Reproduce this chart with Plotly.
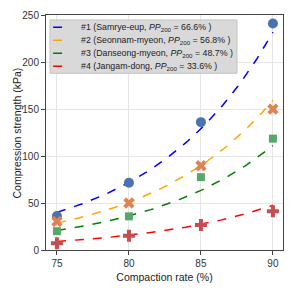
import numpy as np
import plotly.graph_objects as go

compaction = [75, 80, 85, 90]
site_labels = [
    "#1 (Samrye-eup, <i>PP</i><sub>200</sub> = 66.6% )",
    "#2 (Seonnam-myeon, <i>PP</i><sub>200</sub> = 56.8% )",
    "#3 (Danseong-myeon, <i>PP</i><sub>200</sub> = 48.7% )",
    "#4 (Jangam-dong, <i>PP</i><sub>200</sub> = 33.6% )",
]
strength_1 = [36.2, 71.6, 136.0, 241.0]
strength_2 = [30.3, 50.0, 89.6, 149.8]
strength_3 = [20.0, 35.8, 77.5, 118.5]
strength_4 = [7.2, 15.2, 26.5, 41.3]
y_ticks = [0, 50, 100, 150, 200, 250]
# exponential trend lines y = a * exp(b * (x - 75))
fit_a = [40.0, 28.6, 20.7, 9.0]
fit_b = [0.1171, 0.1145, 0.1120, 0.1110]

series = [strength_1, strength_2, strength_3, strength_4]
line_colors = ["blue", "orange", "green", "red"]
marker_colors = ["#4c72b0", "#dd8452", "#55a868", "#c44e52"]
marker_symbols = ["circle", "x", "square", "cross"]
marker_sizes = [10, 10, 8, 10]

fig = go.Figure()
xf = np.linspace(75, 90, 100)
for i in range(4):
    fig.add_trace(go.Scatter(
        x=xf, y=fit_a[i] * np.exp(fit_b[i] * (xf - 75)),
        mode="lines", line=dict(color=line_colors[i], dash="dash", width=1.5),
        name=site_labels[i], showlegend=False))
for i in range(4):
    fig.add_trace(go.Scatter(
        x=compaction, y=series[i], mode="markers",
        marker=dict(color=marker_colors[i], symbol=marker_symbols[i],
                    size=marker_sizes[i], line=dict(width=0)),
        showlegend=False))

# hand-made compact legend (paper coordinates)
fig.add_shape(type="rect", xref="paper", yref="paper",
              x0=0.017, x1=0.806, y0=0.752, y1=0.979,
              fillcolor="rgb(217,217,217)", line=dict(color="#c4c4c4", width=1),
              layer="above")
row_y = [0.9475, 0.8926, 0.8376, 0.7822]
for i in range(4):
    fig.add_shape(type="line", xref="paper", yref="paper",
                  x0=0.030, x1=0.106, y0=row_y[i], y1=row_y[i],
                  line=dict(color=line_colors[i], dash="dash", width=1.5),
                  layer="above")
    fig.add_annotation(xref="paper", yref="paper", x=0.139, y=row_y[i],
                       xanchor="left", yanchor="middle", showarrow=False,
                       text=site_labels[i], font=dict(size=8.8, color="#222"))

# y-axis title
fig.add_annotation(xref="paper", yref="paper", x=-0.1224, y=0.5,
                   xanchor="center", yanchor="middle", showarrow=False,
                   textangle=-90, text="Compression strength (kPa)",
                   font=dict(size=10.5, color="#222"))

axis_common = dict(showline=True, linecolor="#444", linewidth=1, mirror=True,
                   ticks="outside", ticklen=4, tickcolor="#444",
                   showgrid=True, gridcolor="#e6e6e6", gridwidth=1,
                   zeroline=False, tickfont=dict(size=10, color="#333"))
fig.update_layout(
    width=295, height=290,
    margin=dict(l=46, r=12, t=9, b=39),
    paper_bgcolor="white", plot_bgcolor="white",
    showlegend=False,
    font=dict(family="Arial, Liberation Sans, sans-serif", size=11, color="#222"),
    xaxis=dict(range=[74.24, 90.7], tickvals=compaction,
               title=dict(text="Compaction rate (%)", font=dict(size=10.5), standoff=5),
               **axis_common),
    yaxis=dict(range=[0, 250], tickvals=y_ticks, **axis_common),
)
fig.write_html("out.html")
